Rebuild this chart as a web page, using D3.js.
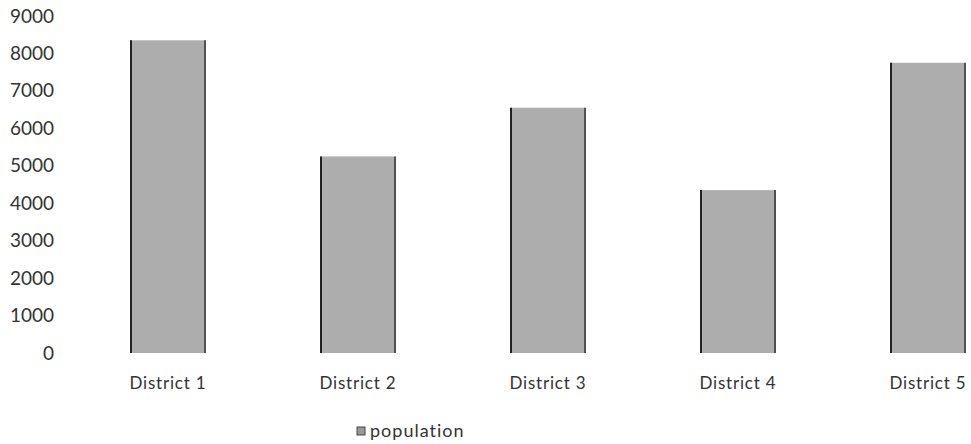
<!DOCTYPE html>
<html>
<head>
<meta charset="utf-8">
<script src="https://cdn.jsdelivr.net/npm/d3@7"></script>
<style>
  body { margin: 0; background: #fff; }
  svg { display: block; }
  text { font-family: Lato, "Open Sans", sans-serif; fill: #333; }
</style>
</head>
<body>
<div id="chart"></div>
<script>
// chart data
var districts = ["District 1", "District 2", "District 3", "District 4", "District 5"];
var population = [8350, 5250, 6550, 4350, 7750];
var yTicks = [0, 1000, 2000, 3000, 4000, 5000, 6000, 7000, 8000, 9000];
var seriesName = "population";

var W = 971, H = 444;

var svg = d3.select("#chart")
  .append("svg")
    .attr("width", W)
    .attr("height", H);

// x: band scale, the last band runs past the right edge like the scan
var x = d3.scaleBand()
  .domain(districts)
  .range([73, 1023])
  .paddingInner(0.6)
  .paddingOuter(0.3);

var y = d3.scaleLinear()
  .domain([0, 9000])
  .range([353, 16]);

// y axis, labels only
var yAxis = svg.append("g")
  .attr("transform", "translate(58,0)")
  .call(d3.axisLeft(y).tickValues(yTicks).tickSize(0).tickPadding(4).tickFormat(d3.format("d")));
yAxis.select(".domain").remove();
yAxis.selectAll("text")
  .style("font-size", "19px")
  .attr("fill", "#3a3a3a");

// bars
var bars = svg.append("g").selectAll("g")
  .data(population)
  .join("g");

bars.append("rect")
  .attr("x", function(d, i) { return x(districts[i]); })
  .attr("y", function(d) { return y(d); })
  .attr("width", x.bandwidth())
  .attr("height", function(d) { return y(0) - y(d); })
  .attr("fill", "#adadad");

// dark left and right edges
bars.append("line")
  .attr("x1", function(d, i) { return x(districts[i]) + 1; })
  .attr("x2", function(d, i) { return x(districts[i]) + 1; })
  .attr("y1", function(d) { return y(d); })
  .attr("y2", y(0))
  .attr("stroke", "#222")
  .attr("stroke-width", 2);
bars.append("line")
  .attr("x1", function(d, i) { return x(districts[i]) + x.bandwidth() - 1; })
  .attr("x2", function(d, i) { return x(districts[i]) + x.bandwidth() - 1; })
  .attr("y1", function(d) { return y(d); })
  .attr("y2", y(0))
  .attr("stroke", "#333")
  .attr("stroke-width", 1.5);

// category labels
var xAxis = svg.append("g")
  .attr("transform", "translate(0," + y(0) + ")")
  .call(d3.axisBottom(x).tickSize(0).tickPadding(24));
xAxis.select(".domain").remove();
xAxis.selectAll("text")
  .style("font-size", "17px")
  .style("letter-spacing", "0.8px")
  .attr("fill", "#222");

// legend
var legend = svg.append("g").attr("transform", "translate(357,427)");
legend.append("rect")
  .attr("width", 8).attr("height", 8)
  .attr("fill", "#999")
  .attr("stroke", "#444");
legend.append("text")
  .attr("x", 13).attr("y", 10)
  .style("font-size", "18px")
  .style("letter-spacing", "1px")
  .attr("fill", "#222")
  .text(seriesName);
</script>
</body>
</html>
